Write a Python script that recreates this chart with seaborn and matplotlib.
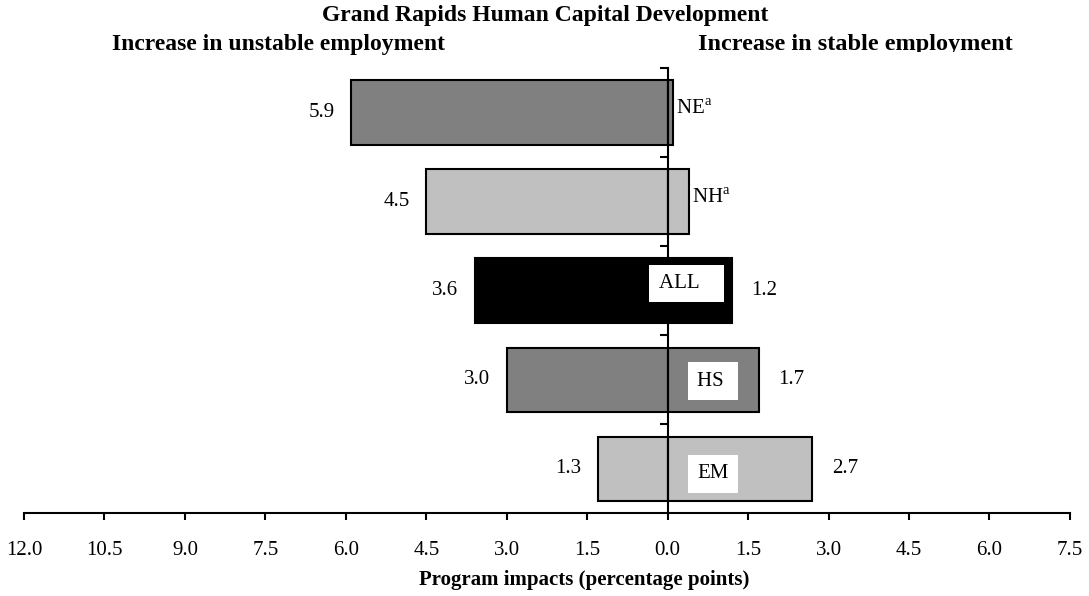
import matplotlib
matplotlib.use("Agg")
import matplotlib.pyplot as plt
import numpy as np
import pandas as pd
import seaborn as sns
from matplotlib.ticker import FuncFormatter
from matplotlib.transforms import Bbox, TransformedBbox

# data
categories = ["NE", "NH", "ALL", "HS", "EM"]
unstable = [5.9, 4.5, 3.6, 3.0, 1.3]     # increase in unstable employment (left)
stable = [0.1, 0.4, 1.2, 1.7, 2.7]       # increase in stable employment (right)
show_stable = [False, False, True, True, True]
bar_colors = ["#808080", "#c0c0c0", "#000000", "#808080", "#c0c0c0"]
xticks = np.arange(-12.0, 7.6, 1.5)

sns.set_style("white")
plt.rcParams["font.family"] = ["Liberation Serif", "DejaVu Serif"]
plt.rcParams["mathtext.fontset"] = "custom"
plt.rcParams["mathtext.rm"] = "Liberation Serif"
plt.rcParams["text.color"] = "black"
plt.rcParams["xtick.color"] = "black"
plt.rcParams["ytick.color"] = "black"
plt.rcParams["axes.edgecolor"] = "black"

df = pd.DataFrame({"category": categories,
                   "neg": [-v for v in unstable],
                   "pos": stable})

fig = plt.figure(figsize=(10.89, 5.96), dpi=100)
ax = fig.add_axes([0.022, 0.139, 0.9605, 0.747])

for col in ["neg", "pos"]:
    sns.barplot(data=df, x=col, y="category", hue="category", palette=bar_colors,
                legend=False, orient="h", width=0.72, saturation=1,
                edgecolor="black", linewidth=1.5, ax=ax)

ax.set_xlim(-12, 7.5)
ax.set_ylim(4.5, -0.5)
ax.set_xticks(xticks)
ax.xaxis.set_major_formatter(FuncFormatter(lambda v, p: f"{abs(v):.1f}"))
ax.set_yticks(np.arange(-0.5, 4.0, 1.0))
ax.set_yticklabels([])
ax.set_ylabel("")
ax.set_xlabel("")
ax.tick_params(axis="x", direction="out", length=5, width=1.5, labelsize=15, pad=15,
               bottom=True)
ax.tick_params(axis="y", direction="out", length=6, width=1.5, left=True)

for s in ["top", "right"]:
    ax.spines[s].set_visible(False)
ax.spines["left"].set_position(("data", 0))
ax.spines["left"].set_linewidth(1.5)
ax.spines["bottom"].set_linewidth(1.5)
ax.spines["left"].set_zorder(5)

# value labels
for i, cat in enumerate(categories):
    ax.annotate(f"{unstable[i]:.1f}", xy=(-unstable[i], i), xytext=(-12, 0),
                textcoords="offset points", ha="right", va="center", fontsize=15)
    if show_stable[i]:
        ax.annotate(f"{stable[i]:.1f}", xy=(stable[i], i), xytext=(14, 0),
                    textcoords="offset points", ha="left", va="center", fontsize=15)
    else:
        ax.annotate(cat + r"$^{\mathrm{a}}$", xy=(stable[i], i), xytext=(2, 2),
                    textcoords="offset points", ha="left", va="center", fontsize=15)

# white boxed group labels inside the bars
box_labels = {"ALL": ("ALL   ", -0.17, -0.08), "HS": ("HS ", 0.55, 0.02), "EM": ("EM", 0.55, 0.06)}
for i, cat in enumerate(categories):
    if cat in box_labels:
        txt, bx, dy = box_labels[cat]
        ax.text(bx, i + dy, txt, ha="left", va="center", fontsize=15, zorder=6,
                bbox=dict(facecolor="white", edgecolor="none", boxstyle="square,pad=0.45"))

fig.text(0.5005, 0.965, "Grand Rapids Human Capital Development", ha="center", va="baseline",
         fontsize=17, fontweight="bold")
fig.text(0.103, 0.916, "Increase in unstable employment", ha="left", va="baseline",
         fontsize=17, fontweight="bold")
right_title = fig.text(0.641, 0.916, "Increase in stable employment", ha="left", va="baseline",
                       fontsize=17.5, fontweight="bold")
right_title.set_clip_box(TransformedBbox(Bbox([[0, 0.913], [1, 1]]), fig.transFigure))
right_title.set_clip_on(True)
fig.text(0.536, 0.0185, "Program impacts (percentage points)", ha="center", va="baseline",
         fontsize=15, fontweight="bold")

fig.savefig("out.png", dpi=100)
